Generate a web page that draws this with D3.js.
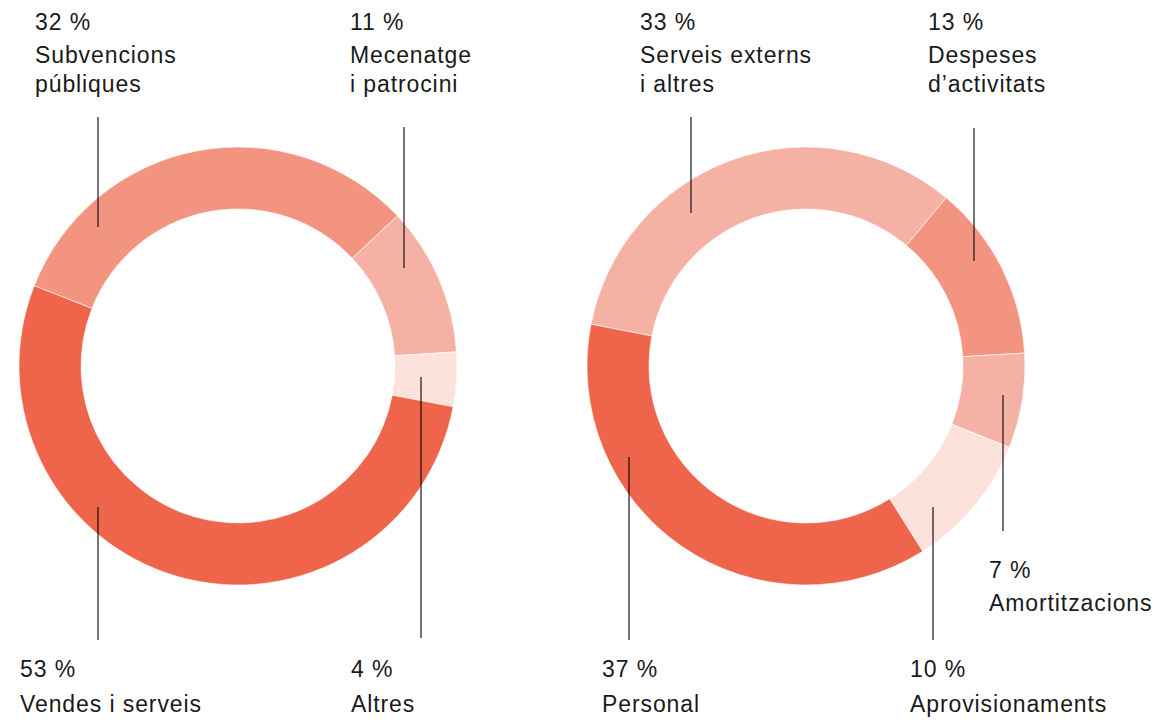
<!DOCTYPE html>
<html>
<head>
<meta charset="utf-8">
<script src="https://cdn.jsdelivr.net/npm/d3@7"></script>
<style>
  body { margin: 0; background: #fff; }
  svg text { font-family: "Liberation Sans", Arial, sans-serif; font-size: 23px; fill: #1a1a1a; letter-spacing: 0.9px; }
</style>
</head>
<body>
<svg width="1155" height="722"></svg>
<script>
// income (left) and expenses (right), in % of total
const incomeLabels = [["Subvencions", "públiques"], ["Mecenatge", "i patrocini"], ["Altres"], ["Vendes i serveis"]];
const incomeValues = [32, 11, 4, 53];
const expenseLabels = [["Serveis externs", "i altres"], ["Despeses", "d’activitats"], ["Amortitzacions"], ["Aprovisionaments"], ["Personal"]];
const expenseValues = [33, 13, 7, 10, 37];

const dark = "#ee654b", mid = "#f2947f", light = "#f5b1a4", pale = "#fce2db";
const incomeColors = [mid, light, pale, dark];
const expenseColors = [light, mid, light, pale, dark];

// where each leader line sits: x, end inside the ring, end near the text, text x, text side
const incomeCallouts = [
  { x: 98, yIn: 227, yOut: 117, tx: 35, side: "top" },
  { x: 404, yIn: 268, yOut: 127, tx: 350, side: "top" },
  { x: 421, yIn: 377, yOut: 638, tx: 351, side: "bottom" },
  { x: 98, yIn: 507, yOut: 640, tx: 20, side: "bottom" }
];
const expenseCallouts = [
  { x: 691, yIn: 213, yOut: 117, tx: 640, side: "top" },
  { x: 974, yIn: 261, yOut: 128, tx: 928, side: "top" },
  { x: 1003, yIn: 395, yOut: 531, tx: 989, side: "mid" },
  { x: 933, yIn: 507, yOut: 640, tx: 910, side: "bottom" },
  { x: 629, yIn: 457, yOut: 640, tx: 602, side: "bottom" }
];

const svg = d3.select("svg");
const rOuter = 219, rInner = 157;
const deg = Math.PI / 180;

function donut(cx, cy, start, values, colors) {
  const pie = d3.pie().sort(null).startAngle(start).endAngle(start + 2 * Math.PI);
  const arc = d3.arc().innerRadius(rInner).outerRadius(rOuter);
  svg.append("g")
    .attr("transform", `translate(${cx},${cy})`)
    .selectAll("path")
    .data(pie(values))
    .join("path")
    .attr("d", arc)
    .attr("fill", (d, i) => colors[i])
    .attr("stroke", "#fff")
    .attr("stroke-width", 0.6);
}

function callouts(list, values, labels) {
  const g = svg.append("g");
  g.selectAll("line")
    .data(list)
    .join("line")
    .attr("x1", d => d.x).attr("x2", d => d.x)
    .attr("y1", d => d.yIn).attr("y2", d => d.yOut)
    .attr("stroke", "#000")
    .attr("stroke-opacity", 0.72)
    .attr("stroke-width", 1.5);

  // baselines for the percentage and the label lines
  const base = { top: [30, 63, 92], bottom: [677, 712], mid: [578, 611] };
  list.forEach((c, i) => {
    const ys = base[c.side];
    const t = g.append("text").attr("x", c.tx);
    t.append("tspan").attr("x", c.tx).attr("y", ys[0]).text(values[i] + " %");
    labels[i].forEach((s, j) => {
      t.append("tspan").attr("x", c.tx).attr("y", ys[j + 1]).text(s);
    });
  });
}

donut(238, 366, -68.5 * deg, incomeValues, incomeColors);
donut(806, 366, -79 * deg, expenseValues, expenseColors);
callouts(incomeCallouts, incomeValues, incomeLabels);
callouts(expenseCallouts, expenseValues, expenseLabels);
</script>
</body>
</html>
